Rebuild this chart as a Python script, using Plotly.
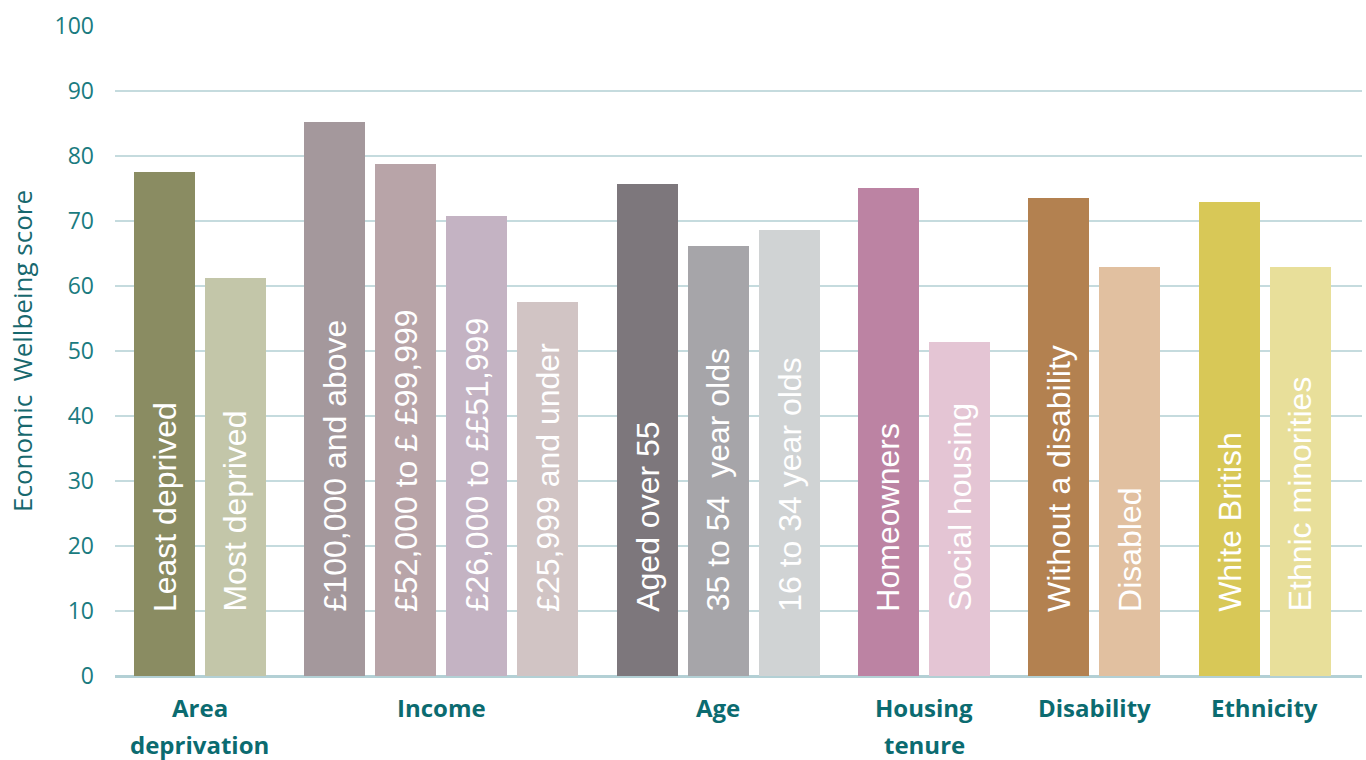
import plotly.graph_objects as go

groups = ["Area deprivation", "Income", "Age", "Housing tenure", "Disability", "Ethnicity"]
group_lines = [["Area", "deprivation"], ["Income"], ["Age"], ["Housing", "tenure"], ["Disability"], ["Ethnicity"]]
categories = [
    ["Least deprived", "Most deprived"],
    ["£100,000 and above", "£52,000 to £ £99,999", "£26,000 to ££51,999", "£25,999 and under"],
    ["Aged over 55", "35 to 54  year olds", "16 to 34 year olds"],
    ["Homeowners", "Social housing"],
    ["Without a disability", "Disabled"],
    ["White British", "Ethnic minorities"],
]
values = [
    [77.5, 61.2],
    [85.2, 78.8, 70.8, 57.5],
    [75.7, 66.2, 68.6],
    [75.1, 51.4],
    [73.5, 62.9],
    [72.9, 62.9],
]
colors = [
    ["#8a8c62", "#c3c6a9"],
    ["#a4989c", "#b8a4a8", "#c4b3c3", "#d1c4c4"],
    ["#7d777c", "#a6a5a9", "#d0d3d4"],
    ["#bc83a3", "#e4c5d4"],
    ["#b38150", "#e1c0a0"],
    ["#d8c857", "#e8df9a"],
]
y_ticks = [0, 10, 20, 30, 40, 50, 60, 70, 80, 90, 100]

GROUP_GAP = 0.4
xs, ys, cols, labels, group_centres = [], [], [], [], []
i = 0
for g, (cats, vals, cs) in enumerate(zip(categories, values, colors)):
    gx = []
    for c, v, col in zip(cats, vals, cs):
        x = i + g * GROUP_GAP
        xs.append(x); ys.append(v); cols.append(col); labels.append(c); gx.append(x)
        i += 1
    group_centres.append((gx[0] + gx[-1]) / 2)

label_font = "'Open Sans', Lato, sans-serif"
bar_font = "'Liberation Sans', Arial, sans-serif"
teal = "#1a7b80"
dark_teal = "#0b6b70"

fig = go.Figure()
fig.add_trace(go.Bar(
    x=xs, y=ys, marker=dict(color=cols, line=dict(width=0)), width=0.86,
    hoverinfo="skip", showlegend=False,
))

annotations = []
for x, lab in zip(xs, labels):
    annotations.append(dict(
        x=x, y=9.6, xref="x", yref="y", text=lab, showarrow=False, textangle=-90,
        xanchor="center", yanchor="bottom",
        font=dict(family=bar_font, size=32, color="white"),
    ))
line_centres = [-0.049, -0.106]
for xc, lines in zip(group_centres, group_lines):
    for k, line in enumerate(lines):
        annotations.append(dict(
            x=xc, y=line_centres[k], xref="x", yref="paper", text=line, showarrow=False,
            xanchor="center", yanchor="middle",
            font=dict(family=label_font, size=24, color=dark_teal, weight="bold"),
        ))

fig.update_layout(
    width=1366, height=760,
    margin=dict(l=115, r=4, t=26, b=84),
    plot_bgcolor="white", paper_bgcolor="white",
    font=dict(family=label_font, color=teal),
    annotations=annotations,
    bargap=0,
)
fig.update_xaxes(
    range=[-0.697, 16.87], showticklabels=False, showgrid=False, zeroline=False,
    showline=False, ticks="",
)
fig.update_yaxes(
    range=[0, 100], tickvals=y_ticks, ticktext=[str(v) for v in y_ticks],
    showgrid=True, gridcolor="#c5dbde", gridwidth=2,
    zeroline=True, zerolinecolor="#b3d0d5", zerolinewidth=3,
    showline=False, ticks="", ticklabelstandoff=20,
    tickfont=dict(size=23, color=teal, family=label_font),
    title=dict(text="Economic  Wellbeing score", standoff=14,
               font=dict(size=26, color="#17686e", family=label_font)),
)

fig.write_html("out.html")
